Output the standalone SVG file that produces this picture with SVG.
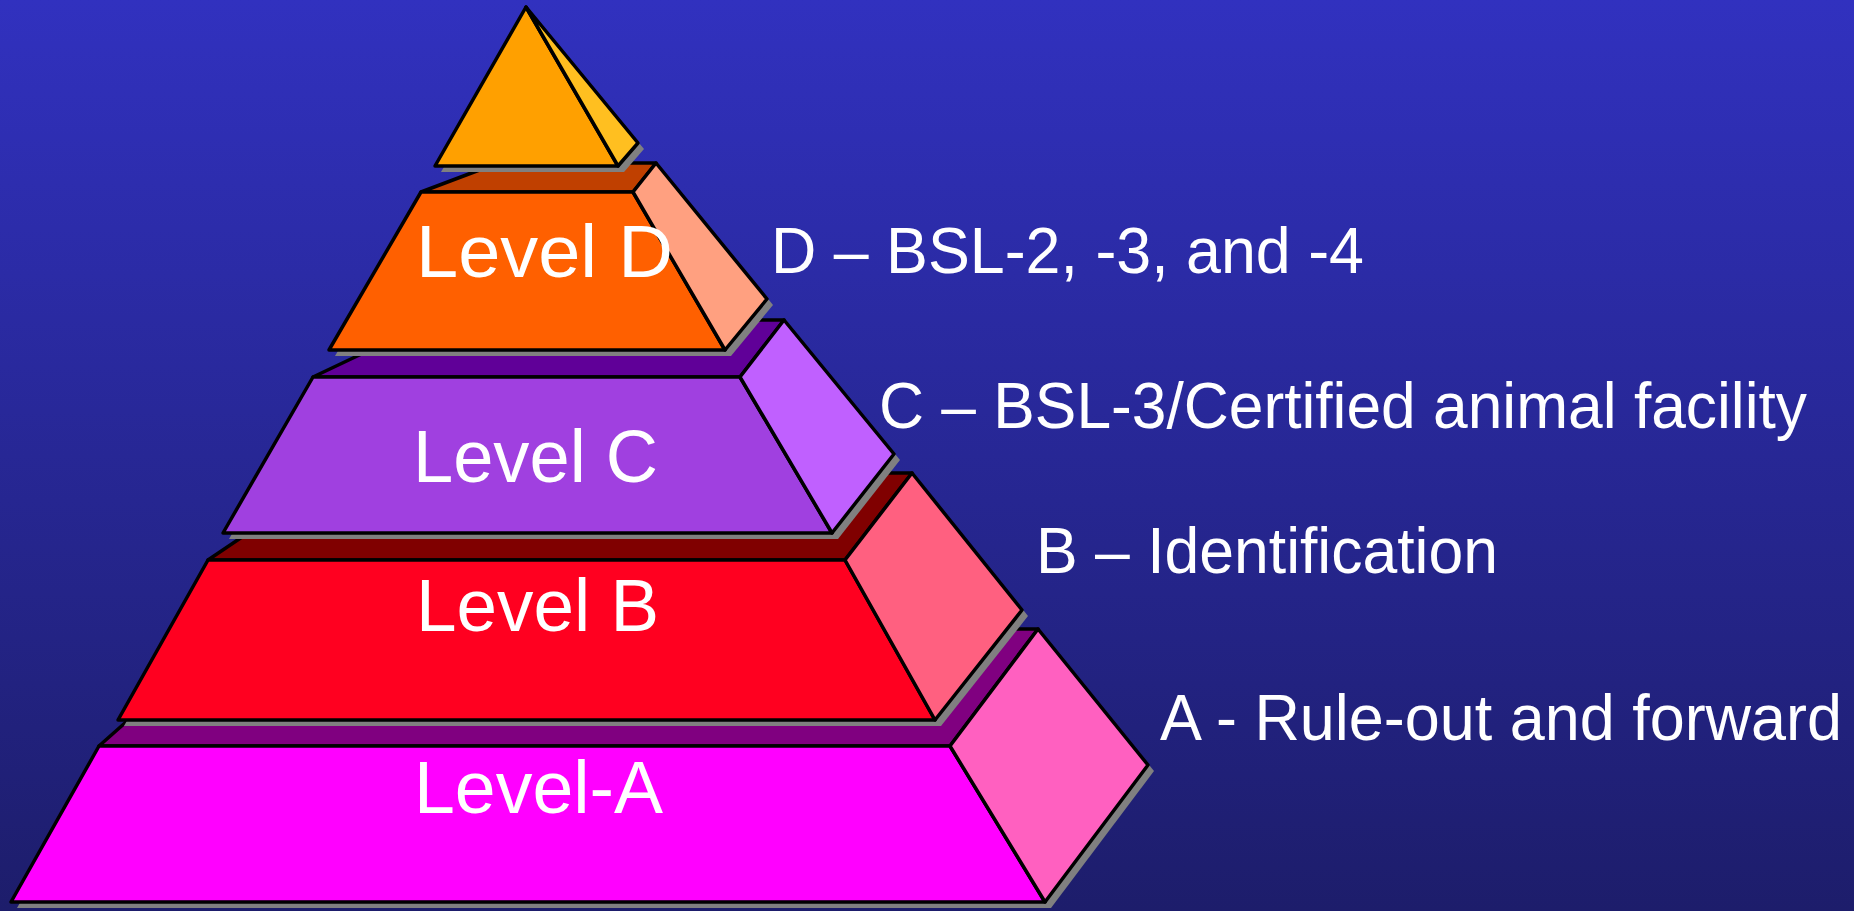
<svg xmlns="http://www.w3.org/2000/svg" width="1854" height="911" viewBox="0 0 1854 911">
  <defs>
    <linearGradient id="bg" x1="0" y1="0" x2="0" y2="1">
      <stop offset="0" stop-color="#3131BF"/>
      <stop offset="1" stop-color="#1D1D6B"/>
    </linearGradient>
  </defs>
  <style>
    .edge { stroke: #000; stroke-width: 3.5; stroke-linejoin: round; }
    .shadow { fill: #808080; }
    .lvl { font-family: "Liberation Sans", Arial, sans-serif; font-size: 75px; fill: #fff; }
    .note { font-family: "Liberation Sans", Arial, sans-serif; font-size: 64px; fill: #fff; }
  </style>

  <rect width="1854" height="911" fill="url(#bg)"/>

  <!-- Level A slab -->
  <g id="level-a">
    <polygon class="shadow" points="17,908 105,752 237,635 1044,635 1154,771 1051,908"/>
    <polygon class="edge" fill="#800080" points="99,746 231,629 1038,629 950,746"/>
    <polygon class="edge" fill="#FF00FF" points="99,746 950,746 1045,902 11,902"/>
    <polygon class="edge" fill="#FF60C0" points="950,746 1038,629 1148,765 1045,902"/>
    <text class="lvl" x="414" y="813" textLength="249" lengthAdjust="spacingAndGlyphs">Level-A</text>
  </g>

  <!-- Level B slab -->
  <g id="level-b">
    <polygon class="shadow" points="124,726 214,566 343,479 918,479 1028,616 941,726"/>
    <polygon class="edge" fill="#800000" points="208,560 337,473 912,473 845,560"/>
    <polygon class="edge" fill="#FF0020" points="208,560 845,560 935,720 118,720"/>
    <polygon class="edge" fill="#FF6080" points="845,560 912,473 1022,610 935,720"/>
    <text class="lvl" x="416" y="631" textLength="243" lengthAdjust="spacingAndGlyphs">Level B</text>
  </g>

  <!-- Level C slab -->
  <g id="level-c">
    <polygon class="shadow" points="229,539 319,383 439,326 790,326 900,460 838,539"/>
    <polygon class="edge" fill="#600098" points="313,377 433,320 784,320 740,377"/>
    <polygon class="edge" fill="#A040E0" points="313,377 740,377 832,533 223,533"/>
    <polygon class="edge" fill="#C060FF" points="740,377 784,320 894,454 832,533"/>
    <text class="lvl" x="413" y="482" textLength="245" lengthAdjust="spacingAndGlyphs">Level C</text>
  </g>

  <!-- Level D slab -->
  <g id="level-d">
    <polygon class="shadow" points="335,356 427,198 504,169 662,169 773,305 731,356"/>
    <polygon class="edge" fill="#C04000" points="421,192 498,163 656,163 633,192"/>
    <polygon class="edge" fill="#FF6000" points="421,192 633,192 725,350 329,350"/>
    <polygon class="edge" fill="#FFA080" points="633,192 656,163 767,299 725,350"/>
    <text class="lvl" x="416" y="277" textLength="257" lengthAdjust="spacingAndGlyphs">Level D</text>
  </g>

  <!-- Apex -->
  <g id="apex">
    <polygon class="shadow" points="532,13 644,149 624,172 441,172"/>
    <polygon class="edge" fill="#FFA000" points="526,7 618,166 435,166"/>
    <polygon class="edge" fill="#FFBF20" points="526,7 638,143 618,166"/>
  </g>

  <!-- Level descriptions -->
  <g id="descriptions">
    <text class="note" x="771" y="273" textLength="593" lengthAdjust="spacingAndGlyphs">D – BSL-2, -3, and -4</text>
    <text class="note" x="879" y="428" textLength="928" lengthAdjust="spacingAndGlyphs">C – BSL-3/Certified animal facility</text>
    <text class="note" x="1036" y="573" textLength="462" lengthAdjust="spacingAndGlyphs">B – Identification</text>
    <text class="note" x="1160" y="740" textLength="682" lengthAdjust="spacingAndGlyphs">A - Rule-out and forward</text>
  </g>
</svg>
